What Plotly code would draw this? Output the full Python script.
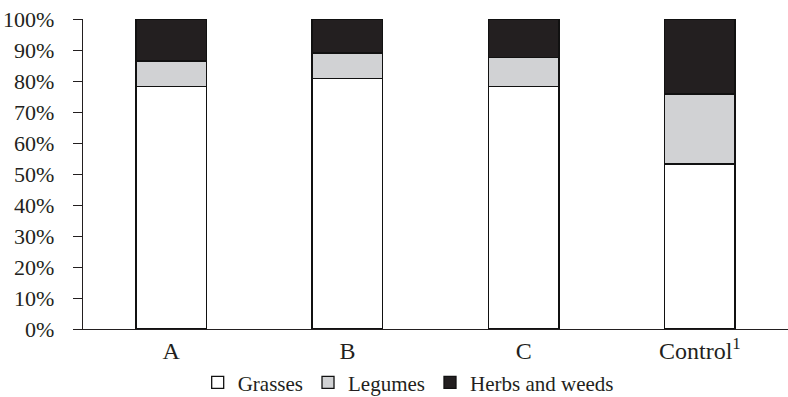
import plotly.graph_objects as go

# Botanical composition of the sward, share of dry matter (%)
categories = ["A", "B", "C", "Control<sup>1</sup>"]
grasses = [78.2, 80.7, 78.3, 53.2]
legumes = [8.3, 8.3, 9.3, 22.6]
herbs_weeds = [13.5, 11.0, 12.4, 24.2]
y_ticks = [0, 10, 20, 30, 40, 50, 60, 70, 80, 90, 100]

series = [
    ("Grasses", grasses, "#ffffff"),
    ("Legumes", legumes, "#d1d2d4"),
    ("Herbs and weeds", herbs_weeds, "#231f20"),
]

fig = go.Figure()
for name, values, color in series:
    fig.add_trace(go.Bar(
        name=name,
        x=categories,
        y=values,
        marker=dict(color=color, line=dict(color="#111111", width=1.3)),
    ))

font_family = "Liberation Serif"

fig.update_layout(
    barmode="stack",
    bargap=0.6,
    width=788,
    height=397,
    margin=dict(l=83, r=0, t=19, b=68),
    paper_bgcolor="white",
    plot_bgcolor="white",
    font=dict(family=font_family, size=21, color="#231f20"),
    showlegend=True,
    legend=dict(
        orientation="h",
        xref="container",
        yref="container",
        x=0.518,
        xanchor="center",
        y=0.036,
        yanchor="middle",
        font=dict(family=font_family, size=21),
        traceorder="normal",
        itemclick=False,
        tracegroupgap=0,
    ),
    xaxis=dict(
        showline=True,
        linecolor="#231f20",
        linewidth=1.3,
        ticks="",
        showgrid=False,
        automargin=False,
        tickfont=dict(family=font_family, size=24),
    ),
    yaxis=dict(
        range=[0, 100],
        tickvals=y_ticks,
        ticktext=[f"{v}%" for v in y_ticks],
        showline=True,
        linecolor="#231f20",
        linewidth=1.3,
        ticks="outside",
        ticklen=9,
        tickcolor="#231f20",
        tickwidth=1.3,
        ticklabelstandoff=14,
        showgrid=False,
        zeroline=False,
        automargin=False,
        tickfont=dict(family=font_family, size=22),
    ),
)

fig.write_html("out.html")
